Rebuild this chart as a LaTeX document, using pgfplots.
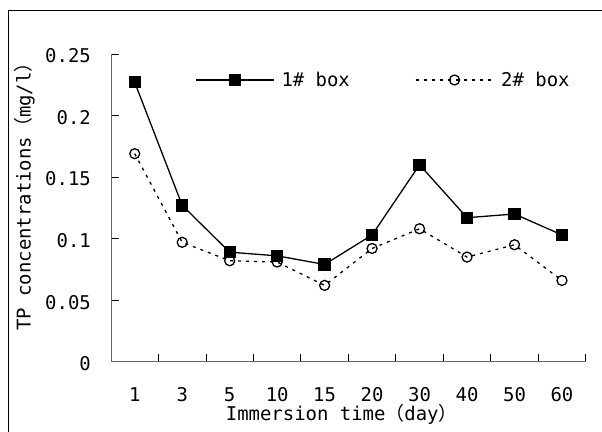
\documentclass[border=0pt]{standalone}
\usepackage{pgfplots}
\pgfplotsset{compat=1.18}
\usepackage{fontspec}
\setmainfont{DejaVu Sans Mono}
\newfontfamily\cjk{Noto Sans CJK JP}
\begin{document}
\begin{tikzpicture}
\useasboundingbox (0bp,0bp) rectangle (602bp,432bp);
\draw[line width=1bp] (8bp,-1bp) -- (8bp,421bp) -- (603bp,421bp);
\begin{axis}[
  at={(111bp,70.3bp)}, anchor=south west,
  scale only axis, width=474.7bp, height=307.7bp,
  xmin=-0.5, xmax=9.5, ymin=0, ymax=0.25,
  clip=false,
  axis x line*=bottom, axis y line*=left,
  axis line style={-, draw=black!60, line width=1bp},
  xtick={-0.5,0.5,...,9.5},
  xticklabels={1,3,5,10,15,20,30,40,50,60},
  x tick label as interval,
  ytick={0,0.05,0.1,0.15,0.2,0.25},
  yticklabels={0,0.05,0.1,0.15,0.2,0.25},
  tick align=inside,
  major tick length=8bp,
  tick style={black, line width=0.8bp},
  font=\fontsize{19}{22}\selectfont,
  xticklabel style={anchor=north, inner sep=0pt, yshift=-26bp},
  yticklabel style={anchor=east, inner sep=0pt, xshift=-20bp, yshift=-2bp},
  xlabel={Immersion time{\cjk （}day{\cjk ）}},
  ylabel={TP concentrations{\cjk （}mg/l{\cjk ）}},
  xlabel style={at={(axis description cs:0.486,-0.172)}, anchor=center, inner sep=0pt},
  ylabel style={at={(axis description cs:-0.182,0.5515)}, anchor=center, inner sep=0pt, rotate=0},
  legend columns=2,
  legend style={draw=none, fill=none, inner sep=0pt, at={(axis description cs:0.177,0.9155)}, anchor=west,
    nodes={inner sep=0pt},
    /tikz/every odd column/.append style={column sep=7bp},
    /tikz/every even column/.append style={column sep=65bp}},
  legend image code/.code={\draw[mark repeat=2,mark phase=2,#1] plot coordinates {(0bp,0bp)(39bp,0bp)(78bp,0bp)};},
]
\addplot[black, line width=1.3bp, mark=square*, mark size=5.5bp, mark options={solid, fill=black}]
  coordinates {(0,0.227)(1,0.127)(2,0.089)(3,0.086)(4,0.079)(5,0.103)(6,0.160)(7,0.117)(8,0.120)(9,0.103)};
\addlegendentry{1\# box}
\addplot[black, line width=1.3bp, dash pattern=on 3bp off 5bp, mark=o, mark size=5bp, mark options={solid, fill=white, line width=1.3bp}]
  coordinates {(0,0.169)(1,0.097)(2,0.082)(3,0.081)(4,0.062)(5,0.092)(6,0.108)(7,0.085)(8,0.095)(9,0.066)};
\addlegendentry{2\# box}
\end{axis}
\end{tikzpicture}
\end{document}
